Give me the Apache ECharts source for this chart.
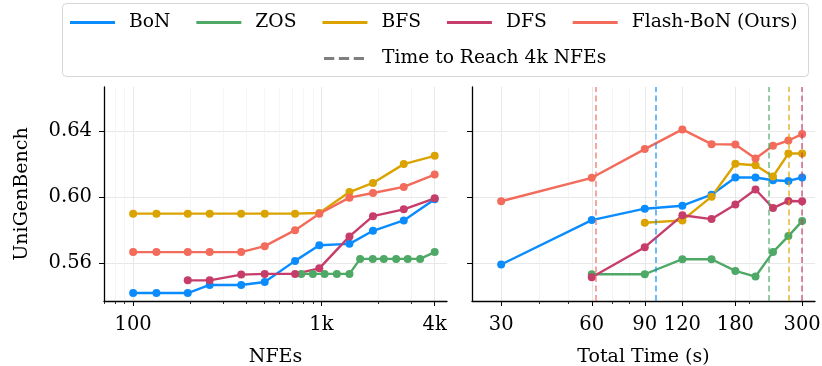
<!DOCTYPE html>
<html>
<head>
<meta charset="utf-8">
<script src="https://cdn.jsdelivr.net/npm/echarts@6/dist/echarts.min.js"></script>
<style>
  html, body { margin: 0; padding: 0; background: #fff; }
  #chart { width: 822px; height: 366px; }
</style>
</head>
<body>
<div id="chart"></div>
<script>
// left panel: score vs NFEs
const nfeMain = [100, 133, 195, 255, 375, 500, 725, 975, 1410, 1880, 2740, 4000];
const nfeDfs = [195, 255, 375, 500, 725, 975, 1410, 1880, 2740, 4000];
const nfeZos = [782, 901, 1040, 1208, 1410, 1607, 1875, 2147, 2497, 2876, 3347, 4000];

const bonNfe = [0.5418, 0.5418, 0.5418, 0.5467, 0.5467, 0.5485, 0.5613, 0.5708, 0.5716, 0.5795, 0.5858, 0.5986];
const zosNfe = [0.5534, 0.5534, 0.5534, 0.5534, 0.5534, 0.5625, 0.5625, 0.5625, 0.5625, 0.5625, 0.5625, 0.5666];
const bfsNfe = [0.5899, 0.5899, 0.5899, 0.5899, 0.5899, 0.5899, 0.5899, 0.5903, 0.6030, 0.6085, 0.6199, 0.6249];
const dfsNfe = [0.5495, 0.5495, 0.5530, 0.5534, 0.5534, 0.5568, 0.5761, 0.5884, 0.5925, 0.5992];
const flashNfe = [0.5666, 0.5666, 0.5666, 0.5666, 0.5666, 0.5702, 0.5799, 0.5899, 0.5996, 0.6024, 0.6061, 0.6136];

// right panel: score vs total time (s)
const timeAll = [30, 60, 90, 120, 150, 180, 210, 240, 270, 300];
const time60 = [60, 90, 120, 150, 180, 210, 240, 270, 300];
const time90 = [90, 120, 150, 180, 210, 240, 270, 300];

const bonTime = [0.5591, 0.5860, 0.5929, 0.5947, 0.6014, 0.6118, 0.6118, 0.6101, 0.6097, 0.6118];
const zosTime = [0.5532, 0.5532, 0.5623, 0.5623, 0.5552, 0.5518, 0.5666, 0.5763, 0.5854];
const bfsTime = [0.5844, 0.5858, 0.6002, 0.6201, 0.6192, 0.6124, 0.6263, 0.6263];
const dfsTime = [0.5514, 0.5696, 0.5889, 0.5866, 0.5955, 0.6045, 0.5933, 0.5976, 0.5974];
const flashTime = [0.5974, 0.6116, 0.6290, 0.6409, 0.6320, 0.6318, 0.6233, 0.6310, 0.6342, 0.6381];

// time needed to reach 4k NFEs
const reach4k = { BoN: 98, ZOS: 232, BFS: 271, DFS: 300, 'Flash-BoN (Ours)': 62 };

// ticks
const yTicks = [0.56, 0.60, 0.64];
const nfeTicks = [100, 1000, 4000];
const nfeMinor = [70, 80, 90, 200, 300, 400, 500, 600, 700, 800, 900, 2000, 3000];
const timeTicks = [30, 60, 90, 120, 180, 300];
const timeMinor = [40, 50, 70, 80, 200];

const colors = {
  'BoN': '#0a8cff',
  'ZOS': '#4ea866',
  'BFS': '#daa300',
  'DFS': '#c73d6a',
  'Flash-BoN (Ours)': '#f26b5b'
};
const names = ['BoN', 'ZOS', 'BFS', 'DFS', 'Flash-BoN (Ours)'];
const dashName = 'Time to Reach 4k NFEs';

const font = 'DejaVu Serif';
const pairs = (xs, ys) => xs.map((x, i) => [x, ys[i]]);

const gridL = { left: 104, top: 87, width: 343, height: 214, outerBoundsMode: 'none', containLabel: false };
const gridR = { left: 472, top: 87, width: 343, height: 214, outerBoundsMode: 'none', containLabel: false };

function majorX(gridIndex, min, max, ticks, name, fmt) {
  return {
    type: 'log', logBase: 10, gridIndex, min, max, position: 'bottom',
    name, nameLocation: 'middle', nameGap: 47,
    nameTextStyle: { fontFamily: font, fontSize: 19, color: '#000' },
    axisLine: { show: true, lineStyle: { color: '#000', width: 1.3 } },
    axisTick: { show: true, customValues: ticks, length: 5, lineStyle: { color: '#000', width: 1 } },
    axisLabel: { customValues: ticks, formatter: fmt, margin: 14, fontFamily: font, fontSize: 19.5, color: '#000' },
    splitLine: { show: true, lineStyle: { color: '#e8e8e8', width: 1 } }
  };
}
function minorX(gridIndex, min, max, ticks) {
  return {
    type: 'log', logBase: 10, gridIndex, min, max, position: 'bottom',
    axisLine: { show: false },
    axisTick: { show: true, customValues: ticks, length: 3, lineStyle: { color: '#000', width: 0.8 } },
    axisLabel: { show: false },
    splitLine: { show: true, lineStyle: { color: '#f3f3f3', width: 0.8 } }
  };
}
function yAx(gridIndex, showLabel) {
  return {
    type: 'value', gridIndex, min: 0.537, max: 0.6666,
    name: showLabel ? 'UniGenBench' : '', nameLocation: 'middle', nameGap: 72,
    nameTextStyle: { fontFamily: font, fontSize: 19, color: '#000' },
    axisLine: { show: true, lineStyle: { color: '#000', width: 1.3 } },
    axisTick: { show: true, customValues: yTicks, length: 5, lineStyle: { color: '#000', width: 1 } },
    axisLabel: { show: showLabel, customValues: yTicks, formatter: v => v.toFixed(2), margin: 12, fontFamily: font, fontSize: 19.5, color: '#000' },
    splitLine: { show: true, lineStyle: { color: '#e8e8e8', width: 1 } }
  };
}

function lineSeries(name, data, xi, yi, reach) {
  const s = {
    name, type: 'line', data, xAxisIndex: xi, yAxisIndex: yi,
    color: colors[name], symbol: 'circle', symbolSize: 8, showSymbol: true,
    lineStyle: { width: 2.4, color: colors[name] },
    itemStyle: { color: colors[name], borderWidth: 0 },
    emphasis: { disabled: true }, silent: true
  };
  if (reach !== undefined) {
    s.markLine = {
      silent: true, symbol: ['none', 'none'], label: { show: false },
      lineStyle: { type: [6, 3.5], width: 1.6, color: colors[name], opacity: 0.75 },
      emphasis: { disabled: true },
      data: [{ xAxis: reach }]
    };
  }
  return s;
}

const chart = echarts.init(document.getElementById('chart'));
chart.setOption({
  animation: false,
  backgroundColor: '#fff',
  graphic: [{
    type: 'rect', left: 62, top: 3, z: -1,
    shape: { width: 746, height: 73, r: 4 },
    style: { fill: '#fff', stroke: '#d6d6d6', lineWidth: 1 }
  }],
  legend: [{
    data: names, left: 70, top: 13, padding: 0, icon: 'rect', itemWidth: 45, itemHeight: 3, itemGap: 26,
    itemStyle: { borderWidth: 0 },
    textStyle: { fontFamily: font, fontSize: 18.7, color: '#000', padding: [0, 0, 0, 9] }
  }, {
    data: [dashName], left: 324, top: 49, padding: 0, itemWidth: 40, itemHeight: 3, symbolKeepAspect: false,
    icon: 'path://M0,0h10v3h-10z M14.5,0h10v3h-10z M29,0h10v3h-10z',
    itemStyle: { borderWidth: 0 },
    textStyle: { fontFamily: font, fontSize: 18.7, color: '#000', padding: [0, 0, 0, 13] }
  }],
  grid: [gridL, gridR],
  xAxis: [
    majorX(0, 70, 4650, nfeTicks, 'NFEs', v => (v >= 1000 ? (v / 1000) + 'k' : String(v))),
    minorX(0, 70, 4650, nfeMinor),
    majorX(1, 24, 331, timeTicks, 'Total Time (s)', v => String(v)),
    minorX(1, 24, 331, timeMinor)
  ],
  yAxis: [yAx(0, true), yAx(1, false)],
  series: [
    lineSeries('BoN', pairs(nfeMain, bonNfe), 0, 0),
    lineSeries('ZOS', pairs(nfeZos, zosNfe), 0, 0),
    lineSeries('BFS', pairs(nfeMain, bfsNfe), 0, 0),
    lineSeries('DFS', pairs(nfeDfs, dfsNfe), 0, 0),
    lineSeries('Flash-BoN (Ours)', pairs(nfeMain, flashNfe), 0, 0),
    lineSeries('BoN', pairs(timeAll, bonTime), 2, 1, reach4k['BoN']),
    lineSeries('ZOS', pairs(time60, zosTime), 2, 1, reach4k['ZOS']),
    lineSeries('BFS', pairs(time90, bfsTime), 2, 1, reach4k['BFS']),
    lineSeries('DFS', pairs(time60, dfsTime), 2, 1, reach4k['DFS']),
    lineSeries('Flash-BoN (Ours)', pairs(timeAll, flashTime), 2, 1, reach4k['Flash-BoN (Ours)']),
    { name: dashName, type: 'line', data: [], xAxisIndex: 2, yAxisIndex: 1, color: '#7f7f7f',
      lineStyle: { type: 'dashed', color: '#7f7f7f' }, itemStyle: { color: '#7f7f7f' } }
  ]
});
</script>
</body>
</html>
